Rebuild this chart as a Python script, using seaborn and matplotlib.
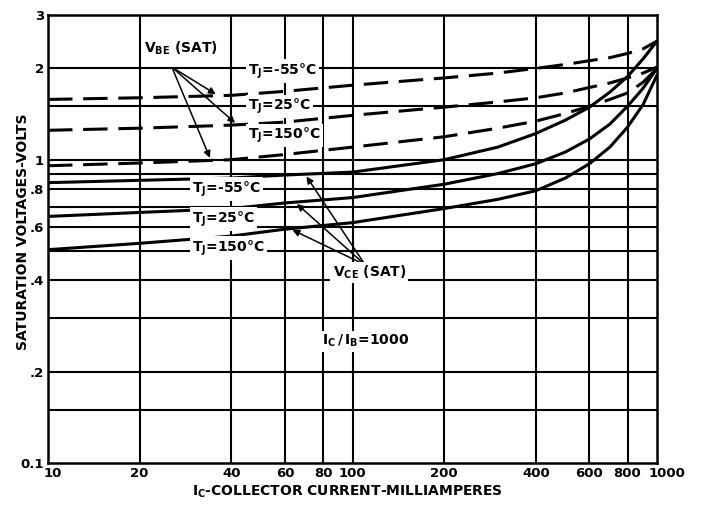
import numpy as np
import pandas as pd
import matplotlib
matplotlib.use("Agg")
import matplotlib.pyplot as plt
import matplotlib.transforms as mtransforms
import seaborn as sns
from matplotlib.ticker import FixedLocator, NullLocator, FixedFormatter

sns.set_style("white")
plt.rcParams['font.family'] = ['DejaVu Sans']
plt.rcParams['mathtext.fontset'] = 'custom'
plt.rcParams['mathtext.rm'] = 'DejaVu Sans:bold'
plt.rcParams['mathtext.default'] = 'rm'
for k in ['text.color', 'axes.labelcolor', 'xtick.color', 'ytick.color']:
    plt.rcParams[k] = 'black'

# ---- data ----
ic_ma = [10, 20, 40, 60, 100, 200, 300, 400, 500, 600, 700, 800, 900, 1000]
vbe_m55 = [1.58, 1.60, 1.63, 1.68, 1.76, 1.86, 1.93, 2.00, 2.06, 2.12, 2.17, 2.24, 2.32, 2.46]
vbe_25 = [1.25, 1.27, 1.30, 1.33, 1.40, 1.49, 1.55, 1.60, 1.66, 1.73, 1.79, 1.86, 1.93, 2.02]
vbe_150 = [0.955, 0.975, 1.00, 1.04, 1.10, 1.19, 1.27, 1.34, 1.42, 1.50, 1.58, 1.66, 1.80, 2.00]
vce_m55 = [0.84, 0.855, 0.87, 0.89, 0.91, 1.00, 1.10, 1.22, 1.35, 1.49, 1.67, 1.88, 2.15, 2.46]
vce_25 = [0.65, 0.67, 0.69, 0.72, 0.75, 0.83, 0.90, 0.97, 1.06, 1.17, 1.31, 1.50, 1.72, 2.00]
vce_150 = [0.505, 0.53, 0.56, 0.59, 0.62, 0.69, 0.74, 0.79, 0.87, 0.97, 1.10, 1.28, 1.52, 1.90]

x_ticks = [10, 20, 40, 60, 80, 100, 200, 400, 600, 800, 1000]
x_tick_labels = ["10", "20", "40", "60", "80", "100", "200", "400", "600", "800", "1000"]
y_ticks = [0.1, 0.2, 0.4, 0.6, 0.8, 1, 2, 3]
y_tick_labels = ["0.1", ".2", ".4", ".6", ".8", "1", "2", "3"]
y_grid = [0.15, 0.2, 0.3, 0.4, 0.5, 0.6, 0.7, 0.8, 0.9, 1, 1.5, 2]

series = {
    "vbe_m55": (vbe_m55, "--"), "vbe_25": (vbe_25, "--"), "vbe_150": (vbe_150, "--"),
    "vce_m55": (vce_m55, "-"), "vce_25": (vce_25, "-"), "vce_150": (vce_150, "-"),
}

fig = plt.figure(figsize=(7.03, 5.16), dpi=100)
ax = fig.add_axes([0.0683, 0.1027, 0.8663, 0.8683])
ax.set_xscale("log")
ax.set_yscale("log")
ax.set_xlim(10, 1000)
ax.set_ylim(0.1, 3)

# grid
for gx in x_ticks[1:-1]:
    ax.axvline(gx, color="black", lw=1.5, zorder=1)
for gy in y_grid:
    ax.axhline(gy, color="black", lw=1.5, zorder=1)

for name, (vals, ls) in series.items():
    df = pd.DataFrame({"ic": ic_ma, "v": vals})
    sns.lineplot(data=df, x="ic", y="v", ax=ax, color="black", lw=2.2,
                 linestyle=ls, zorder=3, sort=True)
for line in ax.get_lines():
    if line.get_linestyle() == "--":
        line.set_dashes([8, 3.5])

ax.xaxis.set_major_locator(FixedLocator(x_ticks))
ax.xaxis.set_major_formatter(FixedFormatter(x_tick_labels))
ax.xaxis.set_minor_locator(NullLocator())
ax.yaxis.set_major_locator(FixedLocator(y_ticks))
ax.yaxis.set_major_formatter(FixedFormatter(y_tick_labels))
ax.yaxis.set_minor_locator(NullLocator())
ax.tick_params(axis="both", length=0, labelsize=9.5, pad=3)
for lab in ax.get_xticklabels() + ax.get_yticklabels():
    lab.set_fontweight("bold")
# nudge end labels like the reference
xl = ax.get_xticklabels()
xl[-1].set_transform(xl[-1].get_transform() +
                     mtransforms.ScaledTranslation(0.10, 0, fig.dpi_scale_trans))
xl[0].set_transform(xl[0].get_transform() +
                    mtransforms.ScaledTranslation(0.05, 0, fig.dpi_scale_trans))
for s in ax.spines.values():
    s.set_color("black")
    s.set_linewidth(1.8)

ax.set_xlabel(r"$\mathregular{I_C}$-COLLECTOR CURRENT-MILLIAMPERES",
              fontsize=10, fontweight="bold")
ax.xaxis.set_label_coords(0.491, -0.045)
ax.set_ylabel("SATURATION VOLTAGES-VOLTS", fontsize=10, fontweight="bold")
ax.yaxis.set_label_coords(-0.030, 0.516)

box = dict(facecolor="white", edgecolor="none", pad=1.5)
tkw = dict(fontsize=10, fontweight="bold", ha="left", va="center", zorder=5, bbox=box)

def on_curve(vals, xq):
    return 10 ** np.interp(np.log10(xq), np.log10(ic_ma), np.log10(vals))

# upper labels
ax.text(20.6, 2.33, r"$\mathregular{V_{BE}}$ (SAT)", **tkw)
ax.text(45.5, 1.96, r"$\mathregular{T_J}$=-55°C", **tkw)
ax.text(45.5, 1.50, r"$\mathregular{T_J}$=25°C", **tkw)
ax.text(45.5, 1.20, r"$\mathregular{T_J}$=150°C", **tkw)
# lower labels
ax.text(29.7, 0.80, r"$\mathregular{T_J}$=-55°C", **tkw)
ax.text(29.7, 0.637, r"$\mathregular{T_J}$=25°C", **tkw)
ax.text(29.7, 0.512, r"$\mathregular{T_J}$=150°C", **tkw)
ax.text(86, 0.425, r"$\mathregular{V_{CE}}$ (SAT)", **tkw)
ax.text(79.5, 0.252, r"$\mathregular{I_C\,/\,I_B}$=1000", **tkw)

akw = dict(arrowstyle="-|>", color="black", lw=1.1, mutation_scale=10)
tail_be = (25.5, 2.02)
for vals, xq in [(vbe_m55, 36.2), (vbe_25, 41.8), (vbe_150, 34.3)]:
    ax.annotate("", xy=(xq, on_curve(vals, xq)), xytext=tail_be,
                arrowprops=akw, zorder=4)
tail_ce = (110, 0.45)
for vals, xq in [(vce_m55, 69.8), (vce_25, 64.7), (vce_150, 62.3)]:
    ax.annotate("", xy=(xq, on_curve(vals, xq)), xytext=tail_ce,
                arrowprops=akw, zorder=4)

fig.savefig("out.png", dpi=100)
